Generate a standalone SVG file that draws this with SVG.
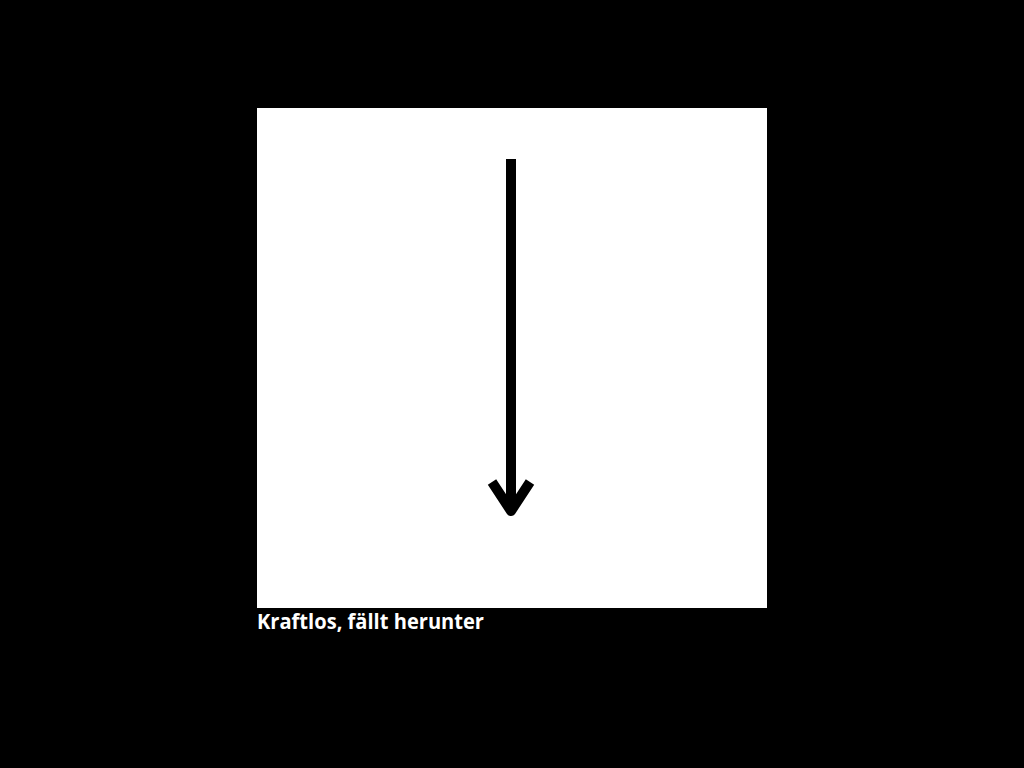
<svg xmlns="http://www.w3.org/2000/svg" width="1024" height="768" viewBox="0 0 1024 768">
<style>
.lbl{font-family:"Open Sans","Liberation Sans",sans-serif;font-weight:bold;font-size:21px;fill:#fff}
.arr{stroke:#000;stroke-width:10;fill:none}
</style>
<rect width="1024" height="768" fill="#000"/>
<g id="panel">
<rect x="257" y="108" width="510" height="500" fill="#fff"/>
</g>
<g id="connectors">
<line class="arr" x1="511" y1="159" x2="511" y2="508"/>
<polyline class="arr" points="492,482 511,511 530,482" stroke-linejoin="round" stroke-linecap="butt"/>
</g>
<g id="caption">
<text class="lbl" x="257" y="629" textLength="227" lengthAdjust="spacingAndGlyphs">Kraftlos, fällt herunter</text>
</g>
</svg>
